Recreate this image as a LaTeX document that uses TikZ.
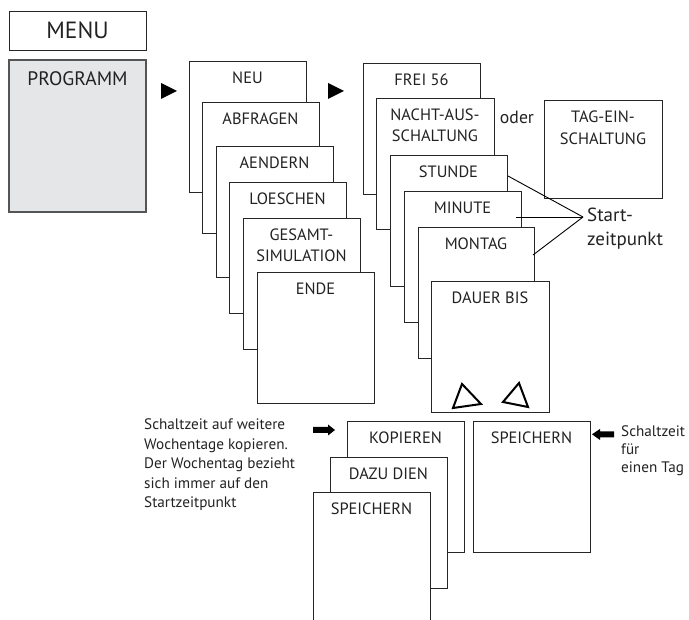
\documentclass[tikz,border=0pt]{standalone}
\usepackage{fontspec}
\setmainfont{PT Sans}
\usetikzlibrary{calc}
\definecolor{ln}{HTML}{262626}
\definecolor{tx}{HTML}{222222}
\definecolor{pg}{HTML}{E5E6E8}
\definecolor{pgl}{HTML}{555555}
\begin{document}
\begin{tikzpicture}[x=1pt,y=-1pt,
  box/.style={draw=ln, fill=white, line width=0.9pt, anchor=north west,
    minimum width=117pt, minimum height=131pt, inner sep=0pt, outer sep=0pt},
  lbl/.style={font=\fontsize{16.4}{20}\selectfont, text=tx, inner sep=0pt, anchor=base},
  txt/.style={font=\fontsize{15.2}{19}\selectfont, text=tx, inner sep=0pt, anchor=base west},
  big/.style={font=\fontsize{19}{22}\selectfont, text=tx, inner sep=0pt, anchor=base west},
  tipfill/.style={fill=black},
  tri/.style={draw=black, line width=2pt, line join=miter},
  conn/.style={draw=black, line width=0.9pt}
]
\useasboundingbox (0,0) rectangle (689,620);

% MENU and PROGRAMM
\node[box, minimum width=137pt, minimum height=39pt] (menu) at (9,11) {};
\node[lbl, font=\fontsize{23.5}{26}\selectfont] (menut) at ($(menu.north)+(0,28)$) {MENU};
\node[box, fill=pg, draw=pgl, line width=1.1pt, minimum width=137pt, minimum height=152pt] (prog) at (9,60) {};
\node[lbl, font=\fontsize{19.5}{22}\selectfont] (progt) at ($(prog.north)+(0,25.5)$) {PROGRAMM};

% arrows
\fill[tipfill] (161,83) -- (177,91) -- (161,99) -- cycle;
\fill[tipfill] (328,83) -- (344,91) -- (328,99) -- cycle;

% left stack
\node[box] (neu) at (189,61) {};
\node[lbl] (neut) at ($(neu.north)+(0,23)$) {NEU};
\node[box] (abfr) at (202,102) {};
\node[lbl] (abfrt) at ($(abfr.north)+(0,23)$) {ABFRAGEN};
\node[box] (aend) at (216,146) {};
\node[lbl] (aendt) at ($(aend.north)+(0,23)$) {AENDERN};
\node[box] (loes) at (229,182) {};
\node[lbl] (loest) at ($(loes.north)+(0,23)$) {LOESCHEN};
\node[box] (gesa) at (243,218) {};
\node[lbl] (gesat1) at ($(gesa.north)+(0,22.5)$) {GESAMT-};
\node[lbl] (gesat2) at ($(gesa.north)+(0,44)$) {SIMULATION};
\node[box] (ende) at (257,272) {};
\node[lbl] (endet) at ($(ende.north)+(0,23)$) {ENDE};

% right stack
\node[box] (frei) at (363,63) {};
\node[lbl] (freit) at ($(frei.north)+(0,23)$) {FREI 56};
\node[box, minimum width=118pt] (nacht) at (376,98) {};
\node[lbl] (nachtt1) at ($(nacht.north)+(0,22.5)$) {NACHT-AUS-};
\node[lbl] (nachtt2) at ($(nacht.north)+(0,44)$) {SCHALTUNG};
\node[lbl, font=\fontsize{17.7}{20}\selectfont] (oder) at (517,124) {oder};
\node[box, minimum width=118pt, minimum height=98pt] (tag) at (544,100) {};
\node[lbl] (tagt1) at ($(tag.north)+(0,23)$) {TAG-EIN-};
\node[lbl] (tagt2) at ($(tag.north)+(0,44.5)$) {SCHALTUNG};
\node[box] (stunde) at (390,155) {};
\node[lbl] (stundet) at ($(stunde.north)+(0,23)$) {STUNDE};
\node[box] (minute) at (404,191) {};
\node[lbl] (minutet) at ($(minute.north)+(0,23)$) {MINUTE};
\node[box, minimum width=116pt] (montag) at (418,227) {};
\node[lbl] (montagt) at ($(montag.north)+(0,23)$) {MONTAG};
\node[box, minimum width=118pt] (dauer) at (431,281) {};
\node[lbl] (dauert) at ($(dauer.north)+(0,23)$) {DAUER BIS};
\draw[tri] (462,384) -- (453,408) -- (481,404) -- cycle;
\draw[tri] (519,383) -- (503,402) -- (528,407) -- cycle;

% Startzeitpunkt
\coordinate (sz) at (583,217);
\node[big] (start1) at (587,222) {Start-};
\node[big] (start2) at (587,246) {zeitpunkt};
\draw[conn] ($(stunde.north east)+(1,21)$) -- (sz);
\draw[conn] ($(minute.north east)+(-5,26)$) -- (sz);
\draw[conn] ($(montag.north east)+(-1,28)$) -- (sz);

% bottom left text
\node[txt] (d1) at (144,430) {Schaltzeit auf weitere};
\node[txt] (d2) at (144,449.5) {Wochentage kopieren.};
\node[txt] (d3) at (144,469) {Der Wochentag bezieht};
\node[txt] (d4) at (144,488.5) {sich immer auf den};
\node[txt] (d5) at (144,508) {Startzeitpunkt};
\fill[tipfill] (313,427) -- (328,427) -- (328,424.5) -- (335,430) -- (328,435.5) -- (328,433) -- (313,433) -- cycle;

% bottom stack
\node[box] (kop) at (347,421) {};
\node[lbl] (kopt) at ($(kop.north)+(0,23)$) {KOPIEREN};
\node[box] (dazu) at (330,457) {};
\node[lbl] (dazut) at ($(dazu.north)+(0,23)$) {DAZU DIEN};
\filldraw[draw=ln, fill=white, line width=0.9pt] (313,630) -- (313,492) -- (430,492) -- (430,630);
\node[lbl] (speilt) at (371.5,515) {SPEICHERN};

% right speichern
\node[box] (speir) at (473,421) {};
\node[lbl] (speirt) at ($(speir.north)+(0,23)$) {SPEICHERN};
\fill[tipfill] (614,431.5) -- (600,431.5) -- (600,429) -- (592,434.3) -- (600,440) -- (600,437.3) -- (614,437.3) -- cycle;
\node[txt] (r1) at (621,437) {Schaltzeit};
\node[txt] (r2) at (621,455) {für};
\node[txt] (r3) at (621,473) {einen Tag};
\end{tikzpicture}
\end{document}
